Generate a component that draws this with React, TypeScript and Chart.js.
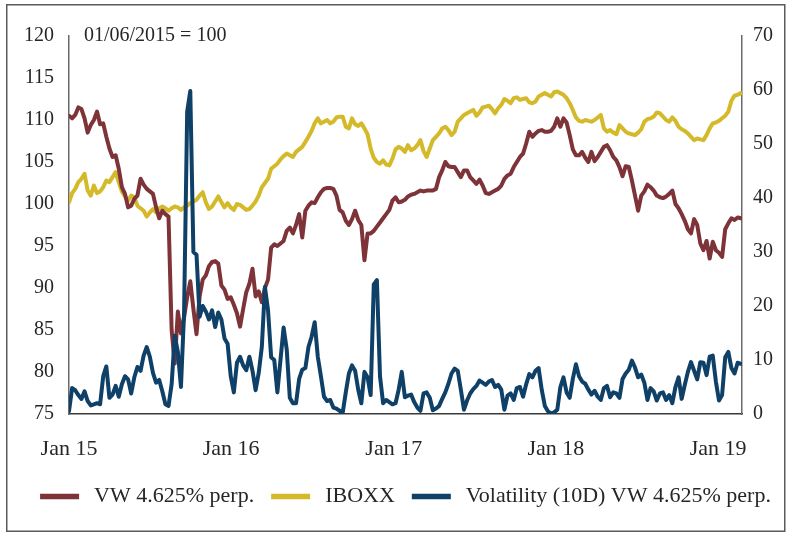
import React, { useEffect, useRef } from 'react';
import { Chart, registerables } from 'chart.js';

Chart.register(...registerables);

// Series names (legend order)
const seriesNames = ['VW 4.625% perp.', 'IBOXX', 'Volatility (10D) VW 4.625% perp.'];

// x axis: weeks since 1 Jan 2015; year ticks
const yearTickWeeks = [0, 52.14, 104.43, 156.57, 208.71];
const yearTickLabels = ['Jan 15', 'Jan 16', 'Jan 17', 'Jan 18', 'Jan 19'];
const lastWeek = 216.4;

const baseNote = '01/06/2015 = 100';

// Weekly values, left axis
const vwValues = [
  110.5, 110.2, 110.6, 111.5, 111.3, 110.2, 108.5, 109.4, 110.0, 111.0,
  109.5, 109.6, 108.0, 106.6, 105.6, 105.8, 104.2, 102.0, 101.2, 99.6,
  99.8, 100.6, 101.0, 103.0, 102.3, 101.8, 101.5, 101.2, 99.6, 98.3,
  99.2, 98.8, 98.5, 85.0, 81.0, 87.2, 84.6, 86.5, 88.9, 90.8,
  87.5, 84.5, 89.0, 91.0, 91.5, 92.6, 93.1, 93.2, 92.9, 90.3,
  89.8, 88.7, 88.9, 88.0, 87.0, 85.4, 87.5, 89.5, 90.5, 92.3,
  89.0, 89.6, 88.3, 90.0, 91.0, 94.8, 95.2, 95.0, 95.3, 95.6,
  96.8, 97.2, 96.5, 97.5, 98.8, 96.0, 99.2, 99.8, 100.2, 100.1,
  100.8, 101.4, 101.8, 101.9, 101.9, 101.8, 101.0, 99.3, 99.0, 98.0,
  97.5, 98.2, 99.2, 98.1, 97.5, 93.3, 96.5, 96.5, 96.8, 97.3,
  97.8, 98.3, 98.8, 99.3, 100.4, 100.8, 100.2, 100.3, 100.5, 100.9,
  101.1, 101.2, 101.4, 101.6, 101.5, 101.6, 101.6, 101.6, 101.8, 103.2,
  104.0, 105.0, 104.5, 104.4, 104.4, 103.8, 103.2, 104.0, 104.0, 103.2,
  102.8, 102.4, 102.9, 102.2, 101.3, 101.2, 101.4, 101.6, 101.8, 102.2,
  103.0, 103.4, 103.6, 104.4, 105.0, 105.6, 106.0, 107.2, 108.6, 108.0,
  108.4, 108.7, 108.8, 108.6, 108.6, 108.7, 109.2, 110.2, 109.2, 110.2,
  109.7, 108.2, 106.5, 105.8, 105.8, 106.2, 105.5, 105.0, 106.2, 105.1,
  105.6, 106.2, 106.8, 107.0, 106.4, 105.6, 105.2, 104.4, 103.3, 104.5,
  104.4, 102.8, 101.0, 99.2, 101.0, 101.5, 102.3, 102.0, 101.6, 101.0,
  100.8, 100.7, 100.9, 101.2, 101.6, 100.0, 99.5, 98.8, 98.0, 97.0,
  96.5, 98.2, 97.5, 95.3, 94.5, 95.6, 93.5, 95.5, 94.5, 94.2,
  93.7, 97.0, 97.7, 98.3, 98.1, 98.4, 98.3,
];

const iboxxValues = [
  100.2, 101.3, 101.8, 102.6, 103.0, 103.6, 101.6, 101.0, 102.2, 101.3,
  101.5, 102.0, 102.8, 102.6, 103.2, 103.8, 102.6, 101.5, 100.9, 100.4,
  101.0, 100.8, 99.8, 99.5, 99.2, 98.5, 99.0, 99.4, 99.0, 99.5,
  99.7, 99.5, 99.2, 99.5, 99.7, 99.6, 99.3, 99.6, 99.8, 100.1,
  100.3, 100.5, 101.0, 101.4, 100.2, 99.4, 99.7, 100.3, 100.9, 100.2,
  99.6, 100.1, 99.6, 99.3, 100.0, 99.9, 99.6, 99.3, 99.4, 99.8,
  100.3, 101.0, 102.0, 102.5, 103.0, 104.2, 104.5, 104.8, 105.3, 105.7,
  106.0, 105.8, 105.6, 106.2, 106.5, 106.8, 107.4, 108.0, 108.7, 109.6,
  110.2, 109.6, 109.8, 110.0, 109.6, 109.8, 110.3, 110.4, 110.4, 109.2,
  109.0, 110.2, 109.5, 109.3, 109.6, 109.0, 108.3, 106.6, 105.5, 105.0,
  104.8, 105.2, 104.7, 104.6, 105.4, 106.5, 106.8, 106.6, 106.2, 107.0,
  106.4, 106.6, 107.0, 107.6, 106.3, 105.6, 106.6, 107.6, 108.0, 108.4,
  109.0, 109.2, 108.8, 108.2, 108.6, 109.8, 110.2, 110.6, 110.8, 111.0,
  111.2, 110.5, 110.9, 111.5, 111.6, 111.7, 111.3, 110.8, 111.4, 111.8,
  112.5, 112.3, 112.0, 112.6, 112.7, 112.4, 112.5, 112.6, 112.1, 112.0,
  112.2, 112.8, 113.0, 113.2, 113.0, 112.8, 113.3, 113.4, 113.2, 113.0,
  112.6, 112.0, 111.2, 110.3, 109.9, 109.8, 110.0, 109.9, 109.8, 110.0,
  110.3, 110.6, 109.0, 108.6, 108.8, 108.5, 108.3, 109.4, 109.0, 108.6,
  108.4, 108.3, 108.2, 108.5, 108.9, 109.8, 110.1, 110.2, 110.4, 110.9,
  110.8, 110.4, 110.0, 109.8, 110.3, 109.9, 109.2, 108.9, 108.7, 108.4,
  108.0, 107.6, 107.8, 107.7, 107.6, 108.2, 109.0, 109.6, 109.7, 109.9,
  110.2, 110.5, 111.0, 112.3, 112.9, 113.0, 113.2,
];

// Weekly values, right axis
const volValues = [
  0.5, 4.8, 4.4, 3.5, 2.8, 4.2, 2.4, 1.6, 1.8, 2.0,
  1.8, 7.0, 8.8, 3.0, 3.6, 5.2, 3.2, 5.5, 7.0, 6.4,
  3.8, 6.8, 8.7, 8.0, 10.8, 12.4, 10.6, 7.6, 5.8, 6.3,
  4.2, 1.8, 1.5, 5.5, 14.5, 11.5, 5.0, 18.7, 56.0, 59.8,
  30.0, 29.5, 18.0, 20.0, 19.0, 17.5, 19.2, 16.1, 18.8, 17.5,
  14.0, 13.0, 7.0, 4.0, 9.5, 10.6, 9.0, 8.1, 10.6, 8.0,
  4.4, 7.6, 12.4, 23.5, 19.2, 10.5, 10.0, 4.0, 10.0, 16.0,
  12.0, 3.0, 2.0, 2.0, 6.5, 8.2, 8.5, 12.4, 14.3, 17.0,
  10.6, 7.0, 3.2, 2.4, 2.6, 1.2, 1.0, 0.6, 0.2, 4.0,
  7.5, 9.0, 8.0, 4.5, 2.0, 7.8, 6.8, 3.5, 24.0, 24.8,
  7.0, 2.0, 2.6, 2.2, 1.8, 2.0, 4.5, 7.8, 3.1, 3.4,
  3.6, 2.2, 1.2, 0.6, 3.8, 4.0, 3.0, 0.7, 1.0, 1.5,
  2.8, 4.0, 5.6, 7.5, 8.4, 8.0, 4.5, 0.8, 2.5, 3.8,
  4.6, 5.2, 6.2, 5.8, 5.4, 6.0, 6.3, 5.0, 5.4, 4.5,
  0.8, 3.4, 3.8, 2.6, 4.8, 5.0, 3.2, 5.5, 7.4, 6.8,
  8.0, 8.5, 4.5, 1.5, 0.5, 0.1, 0.3, 0.8, 5.0, 6.8,
  4.0, 3.0, 6.5, 9.2, 7.0, 6.0, 5.6, 4.5, 3.6, 4.3,
  3.2, 2.6, 4.8, 5.2, 3.1, 4.0, 3.8, 3.0, 6.5, 7.5,
  8.2, 9.9, 8.6, 6.8, 7.3, 5.8, 2.6, 4.8, 4.2, 2.5,
  3.8, 4.0, 2.6, 3.5, 2.0, 5.0, 6.8, 2.8, 5.4, 7.8,
  9.6, 8.0, 6.4, 9.6, 9.5, 7.2, 10.6, 10.8, 6.0, 2.5,
  3.5, 10.5, 11.5, 8.5, 7.5, 9.5, 9.3,
];

const RED = '#7E3338';
const GOLD = '#D4BA2A';
const NAVY = '#0F4068';
const TEXT = '#262626';
const FONT = "'Liberation Serif', 'Times New Roman', serif";
const seriesColors = [RED, GOLD, NAVY];

const toPoints = (vals: number[]) => vals.map((v, i) => ({ x: i, y: v }));

// Frame, note and legend drawn on the canvas (legend laid out in one row)
const framePlugin = {
  id: 'frameNoteLegend',
  afterDraw(chart: any) {
    const ctx = chart.ctx;
    ctx.save();
    ctx.strokeStyle = '#5a5a5a';
    ctx.lineWidth = 1.5;
    ctx.strokeRect(6.75, 4.75, 778, 526.5);

    ctx.fillStyle = TEXT;
    ctx.font = `20px ${FONT}`;
    ctx.textAlign = 'left';
    ctx.textBaseline = 'middle';
    ctx.fillText(baseNote, chart.chartArea.left + 15, chart.chartArea.top);

    // legend
    ctx.font = `22px ${FONT}`;
    const swatch = 39;
    const gapText = 15;
    const gapItem = 17;
    const widths = seriesNames.map((n) => ctx.measureText(n).width);
    const total = widths.reduce((a, w) => a + swatch + gapText + w, 0) + gapItem * (seriesNames.length - 1);
    const centerX = 405.5;
    const y = 496.5;
    let x = centerX - total / 2;
    seriesNames.forEach((name, i) => {
      ctx.fillStyle = seriesColors[i];
      ctx.fillRect(x, y - 2.75, swatch, 5.5);
      x += swatch + gapText;
      ctx.fillStyle = TEXT;
      ctx.fillText(name, x, y);
      x += widths[i] + gapItem;
    });
    ctx.restore();
  },
};

export default function App() {
  const canvasRef = useRef<HTMLCanvasElement | null>(null);

  useEffect(() => {
    if (!canvasRef.current) return;

    const chart = new Chart(canvasRef.current, {
      type: 'line',
      data: {
        datasets: [
          {
            label: seriesNames[0],
            data: toPoints(vwValues),
            borderColor: RED,
            backgroundColor: RED,
            yAxisID: 'y',
            order: 1,
          },
          {
            label: seriesNames[1],
            data: toPoints(iboxxValues),
            borderColor: GOLD,
            backgroundColor: GOLD,
            yAxisID: 'y',
            order: 2,
          },
          {
            label: seriesNames[2],
            data: toPoints(volValues),
            borderColor: NAVY,
            backgroundColor: NAVY,
            yAxisID: 'y1',
            order: 0,
          },
        ],
      },
      plugins: [framePlugin],
      options: {
        animation: false,
        responsive: false,
        devicePixelRatio: 1,
        events: [],
        layout: { padding: { left: 24, right: 0, top: 36, bottom: 64.5 } },
        elements: {
          line: { borderWidth: 4, tension: 0, borderJoinStyle: 'round', borderCapStyle: 'round' },
          point: { radius: 0 },
        },
        plugins: {
          tooltip: { enabled: false },
          legend: { display: false },
        },
        scales: {
          x: {
            type: 'linear',
            min: 0,
            max: lastWeek,
            grid: { display: false, drawTicks: false },
            border: { display: true, color: '#3a3a3a', width: 1.5 },
            afterBuildTicks: (scale: any) => {
              scale.ticks = yearTickWeeks.map((v) => ({ value: v }));
            },
            afterFit: (scale: any) => {
              scale.height = 54.5;
            },
            ticks: {
              autoSkip: false,
              maxRotation: 0,
              minRotation: 0,
              padding: 22,
              color: TEXT,
              font: { family: FONT, size: 22 },
              callback: (_v: any, index: number) => yearTickLabels[index],
            },
          },
          y: {
            position: 'left',
            min: 75,
            max: 120,
            grid: { display: false, drawTicks: false },
            border: { display: true, color: '#6a6a6a', width: 1.5 },
            afterFit: (scale: any) => {
              scale.width = 45;
            },
            ticks: {
              stepSize: 5,
              padding: 15,
              color: TEXT,
              font: { family: FONT, size: 20 },
            },
          },
          y1: {
            position: 'right',
            min: 0,
            max: 70,
            grid: { display: false, drawTicks: false },
            border: { display: true, color: '#6a6a6a', width: 1.5 },
            afterFit: (scale: any) => {
              scale.width = 44;
            },
            ticks: {
              stepSize: 10,
              padding: 11,
              color: TEXT,
              font: { family: FONT, size: 20 },
            },
          },
        },
      } as any,
    });
    return () => chart.destroy();
  }, []);

  return (
    <div style={{ position: 'absolute', left: 0, top: 0, width: 786, height: 533, background: '#fff' }}>
      <canvas ref={canvasRef} width={786} height={533} style={{ display: 'block', width: 786, height: 533 }} />
    </div>
  );
}
